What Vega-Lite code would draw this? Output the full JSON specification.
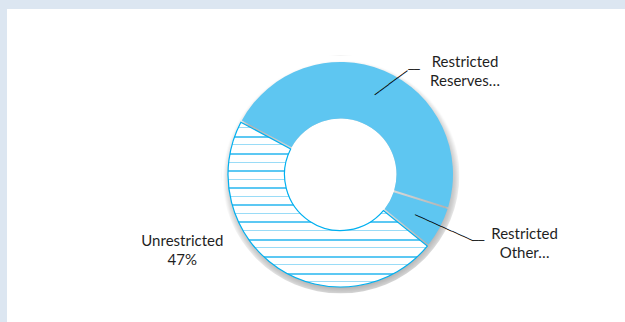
{
  "$schema": "https://vega.github.io/schema/vega-lite/v6.json",
  "width": 667,
  "height": 331,
  "autosize": {"type": "none"},
  "padding": {"left": 7, "top": 9, "right": -49, "bottom": -18},
  "background": "#dce6f1",
  "view": {"fill": "#ffffff", "stroke": null},
  "config": {"view": {"fill": "#ffffff", "stroke": null}},
  "data": {
    "values": [
      {"category": "Restricted Reserves", "share": 47, "label": "Restricted\nReserves…"},
      {"category": "Restricted Other", "share": 6, "label": "Restricted\nOther…"},
      {"category": "Unrestricted", "share": 47, "label": "Unrestricted\n47%"}
    ]
  },
  "encoding": {
    "theta": {"field": "share", "type": "quantitative", "stack": true, "scale": {"domain": [0, 100], "range": [2.2515, 8.5347]}},
    "order": {"field": "category", "type": "ordinal", "sort": "descending"}
  },
  "layer": [
    {
      "transform": [{"filter": "datum.category === 'Unrestricted'"}],
      "mark": {"type": "arc", "outerRadius": 119, "innerRadius": 56},
      "encoding": {
        "theta": {"value": 0},
        "theta2": {"value": 6.2832},
        "fill": {"value": {
          "gradient": "radial", "x1": 0.506, "y1": 0.522, "r1": 0, "x2": 0.506, "y2": 0.522, "r2": 0.5,
          "stops": [
            {"offset": 0, "color": "rgba(0,0,0,0)"},
            {"offset": 0.9, "color": "rgba(0,0,0,0.3)"},
            {"offset": 0.95, "color": "rgba(0,0,0,0.18)"},
            {"offset": 1, "color": "rgba(0,0,0,0)"}
          ]
        }}
      }
    },
    {
      "mark": {"type": "arc", "outerRadius": 112.5, "innerRadius": 56, "padAngle": 0.016, "strokeWidth": 1.2},
      "encoding": {
        "fill": {
          "condition": {
            "test": "datum.category === 'Unrestricted'",
            "value": {
              "gradient": "linear", "x1": 0, "y1": 0, "x2": 0, "y2": 1,
              "stops": [
                {"offset": 0, "color": "#ffffff"},
                {"offset": 0.0311, "color": "#ffffff"}, {"offset": 0.0311, "color": "#9adcf7"}, {"offset": 0.0371, "color": "#9adcf7"}, {"offset": 0.0371, "color": "#ffffff"},
                {"offset": 0.0831, "color": "#ffffff"}, {"offset": 0.0831, "color": "#5cc8f3"}, {"offset": 0.0951, "color": "#5cc8f3"}, {"offset": 0.0951, "color": "#ffffff"},
                {"offset": 0.1350, "color": "#ffffff"}, {"offset": 0.1350, "color": "#9adcf7"}, {"offset": 0.1410, "color": "#9adcf7"}, {"offset": 0.1410, "color": "#ffffff"},
                {"offset": 0.1869, "color": "#ffffff"}, {"offset": 0.1869, "color": "#5cc8f3"}, {"offset": 0.1989, "color": "#5cc8f3"}, {"offset": 0.1989, "color": "#ffffff"},
                {"offset": 0.2388, "color": "#ffffff"}, {"offset": 0.2388, "color": "#9adcf7"}, {"offset": 0.2448, "color": "#9adcf7"}, {"offset": 0.2448, "color": "#ffffff"},
                {"offset": 0.2907, "color": "#ffffff"}, {"offset": 0.2907, "color": "#5cc8f3"}, {"offset": 0.3027, "color": "#5cc8f3"}, {"offset": 0.3027, "color": "#ffffff"},
                {"offset": 0.3426, "color": "#ffffff"}, {"offset": 0.3426, "color": "#9adcf7"}, {"offset": 0.3486, "color": "#9adcf7"}, {"offset": 0.3486, "color": "#ffffff"},
                {"offset": 0.3946, "color": "#ffffff"}, {"offset": 0.3946, "color": "#5cc8f3"}, {"offset": 0.4066, "color": "#5cc8f3"}, {"offset": 0.4066, "color": "#ffffff"},
                {"offset": 0.4465, "color": "#ffffff"}, {"offset": 0.4465, "color": "#9adcf7"}, {"offset": 0.4525, "color": "#9adcf7"}, {"offset": 0.4525, "color": "#ffffff"},
                {"offset": 0.4984, "color": "#ffffff"}, {"offset": 0.4984, "color": "#5cc8f3"}, {"offset": 0.5104, "color": "#5cc8f3"}, {"offset": 0.5104, "color": "#ffffff"},
                {"offset": 0.5503, "color": "#ffffff"}, {"offset": 0.5503, "color": "#9adcf7"}, {"offset": 0.5563, "color": "#9adcf7"}, {"offset": 0.5563, "color": "#ffffff"},
                {"offset": 0.6022, "color": "#ffffff"}, {"offset": 0.6022, "color": "#5cc8f3"}, {"offset": 0.6142, "color": "#5cc8f3"}, {"offset": 0.6142, "color": "#ffffff"},
                {"offset": 0.6541, "color": "#ffffff"}, {"offset": 0.6541, "color": "#9adcf7"}, {"offset": 0.6601, "color": "#9adcf7"}, {"offset": 0.6601, "color": "#ffffff"},
                {"offset": 0.7061, "color": "#ffffff"}, {"offset": 0.7061, "color": "#5cc8f3"}, {"offset": 0.7181, "color": "#5cc8f3"}, {"offset": 0.7181, "color": "#ffffff"},
                {"offset": 0.7580, "color": "#ffffff"}, {"offset": 0.7580, "color": "#9adcf7"}, {"offset": 0.7640, "color": "#9adcf7"}, {"offset": 0.7640, "color": "#ffffff"},
                {"offset": 0.8099, "color": "#ffffff"}, {"offset": 0.8099, "color": "#5cc8f3"}, {"offset": 0.8219, "color": "#5cc8f3"}, {"offset": 0.8219, "color": "#ffffff"},
                {"offset": 0.8618, "color": "#ffffff"}, {"offset": 0.8618, "color": "#9adcf7"}, {"offset": 0.8678, "color": "#9adcf7"}, {"offset": 0.8678, "color": "#ffffff"},
                {"offset": 0.9137, "color": "#ffffff"}, {"offset": 0.9137, "color": "#5cc8f3"}, {"offset": 0.9257, "color": "#5cc8f3"}, {"offset": 0.9257, "color": "#ffffff"},
                {"offset": 0.9656, "color": "#ffffff"}, {"offset": 0.9656, "color": "#9adcf7"}, {"offset": 0.9716, "color": "#9adcf7"}, {"offset": 0.9716, "color": "#ffffff"},
                {"offset": 1, "color": "#ffffff"}
              ]
            }
          },
          "value": "#5ec6f1"
        },
        "stroke": {"condition": {"test": "datum.category === 'Unrestricted'", "value": "#00b0f0"}, "value": "transparent"}
      }
    },
    {
      "mark": {"type": "text", "radius": 167.8, "thetaOffset": 0.4381, "font": "Lato", "fontSize": 15, "lineBreak": "\n", "lineHeight": 19, "align": "center", "baseline": "middle", "color": "#1f1f1f"},
      "encoding": {"text": {"condition": {"test": "datum.category === 'Restricted Reserves'", "field": "label"}, "value": ""}}
    },
    {
      "mark": {"type": "text", "radius": 193.4, "thetaOffset": -0.1798, "font": "Lato", "fontSize": 15, "lineBreak": "\n", "lineHeight": 19, "align": "center", "baseline": "middle", "color": "#1f1f1f"},
      "encoding": {"text": {"condition": {"test": "datum.category === 'Restricted Other'", "field": "label"}, "value": ""}}
    },
    {
      "mark": {"type": "text", "radius": 171.8, "thetaOffset": 0.5838, "font": "Lato", "fontSize": 15, "lineBreak": "\n", "lineHeight": 19, "align": "center", "baseline": "middle", "color": "#1f1f1f"},
      "encoding": {"text": {"condition": {"test": "datum.category === 'Unrestricted'", "field": "label"}, "value": ""}}
    },
    {
      "mark": {"type": "text", "radius": 86.7, "thetaOffset": 0.0122, "angle": 323.4, "font": "DejaVu Sans Mono", "fontSize": 9.6, "align": "left", "baseline": "middle", "color": "#000000"},
      "encoding": {"text": {"condition": {"test": "datum.category === 'Restricted Reserves'", "value": "───────"}, "value": ""}}
    },
    {
      "mark": {"type": "text", "radius": 124.2, "thetaOffset": 0.1798, "angle": 0, "font": "DejaVu Sans Mono", "fontSize": 9.6, "align": "left", "baseline": "middle", "color": "#000000"},
      "encoding": {"text": {"condition": {"test": "datum.category === 'Restricted Reserves'", "value": "──"}, "value": ""}}
    },
    {
      "mark": {"type": "text", "radius": 84.8, "thetaOffset": 0.0052, "angle": 24.3, "font": "DejaVu Sans Mono", "fontSize": 9.6, "align": "left", "baseline": "middle", "color": "#000000"},
      "encoding": {"text": {"condition": {"test": "datum.category === 'Restricted Other'", "value": "───────────"}, "value": ""}}
    },
    {
      "mark": {"type": "text", "radius": 148, "thetaOffset": -0.0262, "angle": 0, "font": "DejaVu Sans Mono", "fontSize": 9.6, "align": "left", "baseline": "middle", "color": "#000000"},
      "encoding": {"text": {"condition": {"test": "datum.category === 'Restricted Other'", "value": "──"}, "value": ""}}
    }
  ]
}
